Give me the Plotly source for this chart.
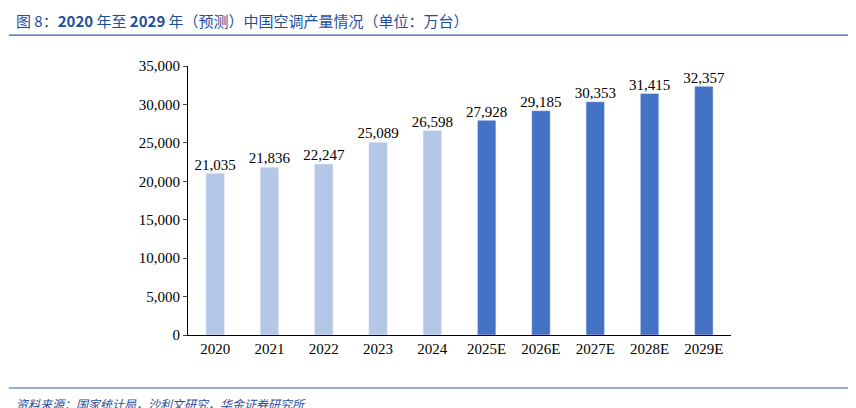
import plotly.graph_objects as go

years = ["2020", "2021", "2022", "2023", "2024", "2025E", "2026E", "2027E", "2028E", "2029E"]
output = [21035, 21836, 22247, 25089, 26598, 27928, 29185, 30353, 31415, 32357]
colors = ["#b4c7e7"] * 5 + ["#4472c4"] * 5

fig = go.Figure()
fig.add_bar(x=years, y=output, marker_color=colors, width=0.34, hoverinfo="x+y")
# value labels above the bars
fig.add_scatter(x=years, y=output, mode="text", text=[f"{v:,}" for v in output],
                textposition="top center", cliponaxis=False, hoverinfo="skip",
                textfont=dict(family="Liberation Serif", size=15, color="#000"))

fig.update_layout(
    width=856, height=408, plot_bgcolor="white", paper_bgcolor="white",
    margin=dict(l=180, r=133, t=58, b=81),
    showlegend=False,
    font=dict(family="Liberation Serif", size=15, color="#000"),
    xaxis=dict(showline=True, linecolor="#000", linewidth=1, ticks="", tickfont=dict(size=15)),
    yaxis=dict(range=[0, 35000], dtick=5000, tickformat=",", showgrid=False,
               showline=True, linecolor="#000", linewidth=1, ticks="outside", ticklen=4,
               tickfont=dict(size=15)),
    shapes=[
        dict(type="line", xref="paper", yref="paper", x0=-0.33, x1=1.25, y0=1.115, y1=1.115,
             line=dict(color="#2e5fa3", width=1.2)),
        dict(type="line", xref="paper", yref="paper", x0=-0.33, x1=1.25, y0=-0.197, y1=-0.197,
             line=dict(color="#2e5fa3", width=1.2)),
    ],
    annotations=[
        dict(text="图 8：<b>2020</b> 年至 <b>2029</b> 年（预测）中国空调产量情况（单位：万台）",
             xref="paper", yref="paper", x=-0.32, y=1.171, xanchor="left", yanchor="middle",
             showarrow=False, font=dict(family="Noto Sans CJK SC", size=15, color="#1f4e9c")),
        dict(text="<i>资料来源：国家统计局，沙利文研究，华金证券研究所</i>",
             xref="paper", yref="paper", x=-0.32, y=-0.253, xanchor="left", yanchor="middle",
             showarrow=False, font=dict(family="Noto Sans CJK SC", size=12, color="#1f4e9c")),
    ],
)

fig.write_html("out.html")
